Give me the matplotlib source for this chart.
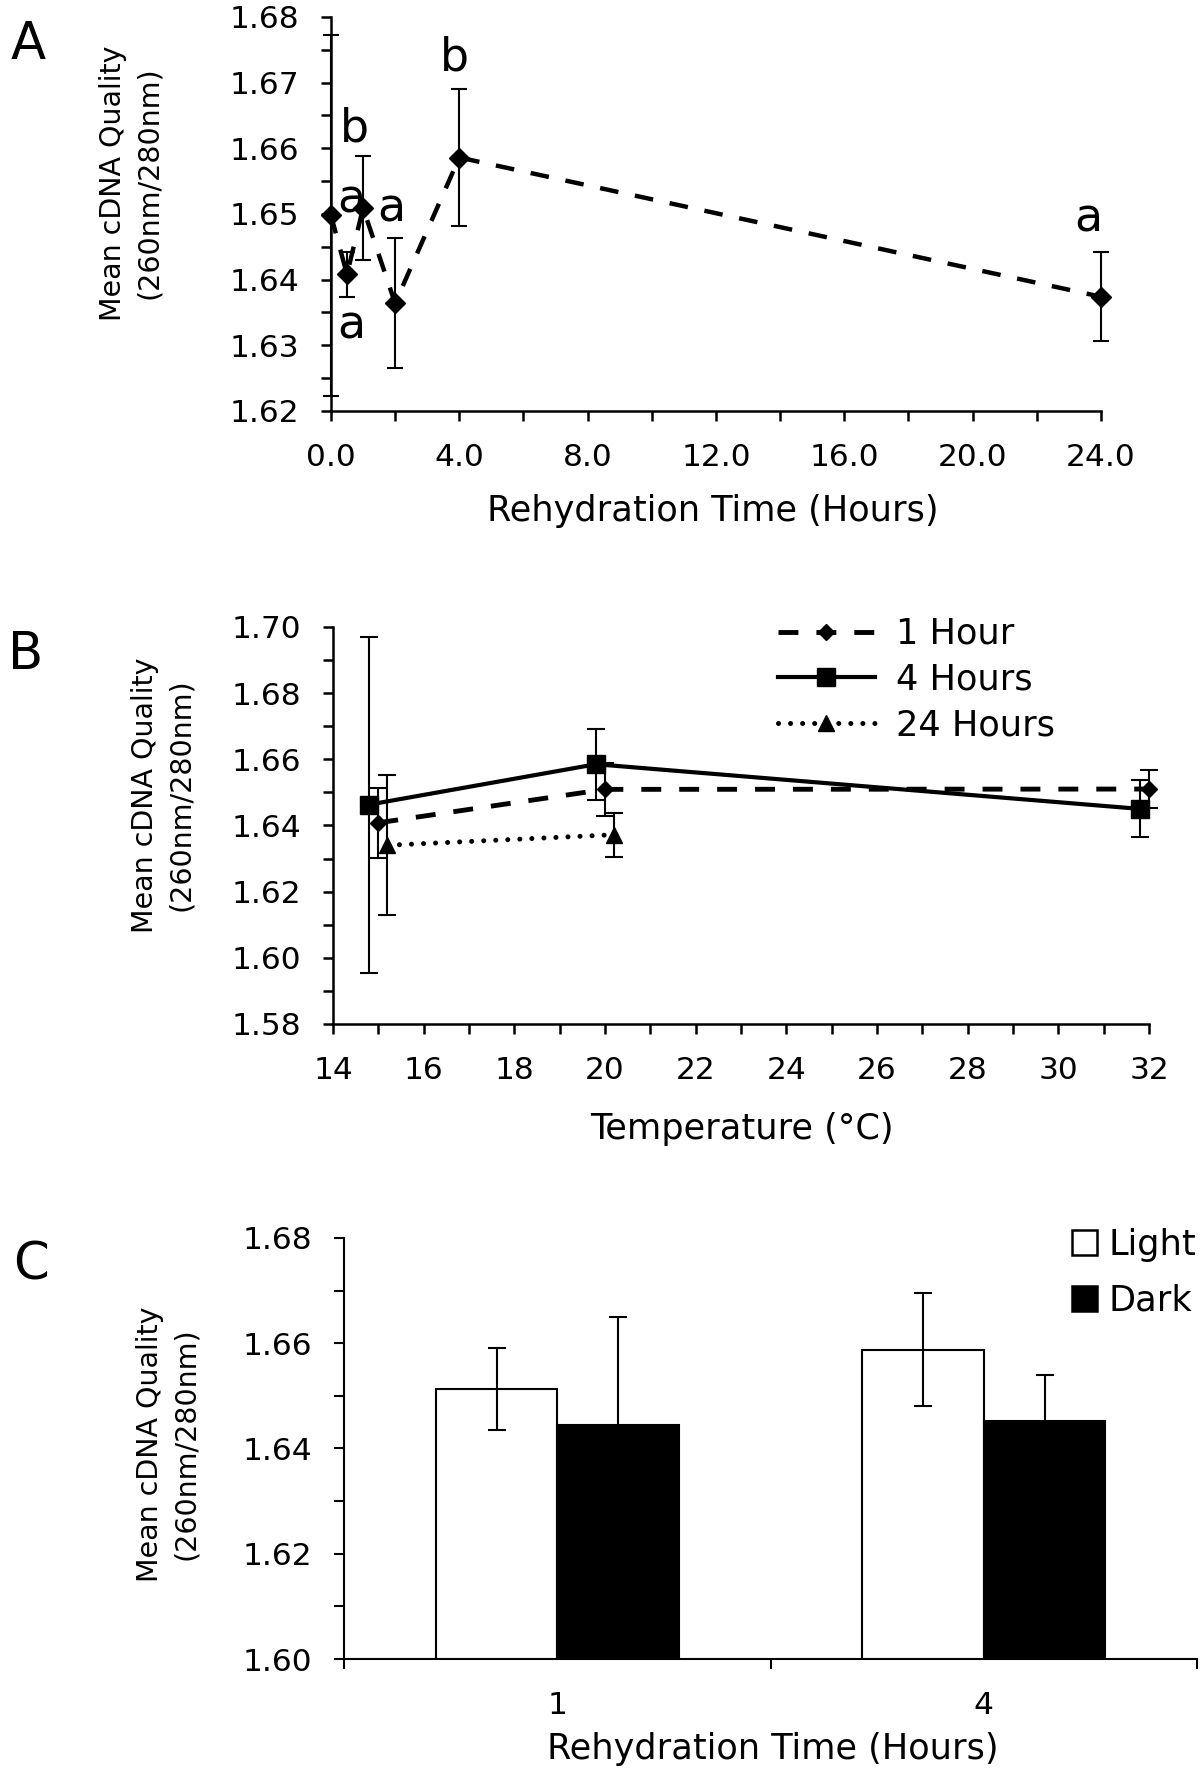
import matplotlib
matplotlib.use("Agg")
import matplotlib.pyplot as plt
from matplotlib.lines import Line2D
from matplotlib.patches import Patch
from matplotlib.ticker import MultipleLocator, FormatStrFormatter
import numpy as np

# ---- panel A : cDNA quality vs rehydration time ----
hours = [0, 0.5, 1, 2, 4, 24]
quality_a = [1.6498, 1.6408, 1.6509, 1.6364, 1.6586, 1.6374]
err_a = [0.0275, 0.0034, 0.0079, 0.0099, 0.0105, 0.0068]
letters_a = ["a", "a", "b", "a", "b", "a"]

# ---- panel B : quality vs temperature, per rehydration time ----
temp_1h = [15.0, 20.0, 32.0]
q_1h = [1.6408, 1.6509, 1.6510]
err_1h = [0.0106, 0.0079, 0.0058]
temp_4h = [14.8, 19.8, 31.8]
q_4h = [1.6463, 1.6585, 1.6450]
err_4h = [0.0508, 0.0107, 0.0086]
temp_24h = [15.2, 20.2]
q_24h = [1.6340, 1.6372]
err_24h = [0.0212, 0.0067]

# ---- panel C : light vs dark ----
groups = ["1", "4"]
light = [1.6513, 1.6588]
light_err = [0.0078, 0.0107]
dark = [1.6444, 1.6453]
dark_err = [0.0205, 0.0087]

ylabel = "Mean cDNA Quality\n(260nm/280nm)"
TICK = 22.5
LAB = 25.3

fig = plt.figure(figsize=(12, 17.7), dpi=100)


def style(ax, lw=1.8):
    for s in ["top", "right"]:
        ax.spines[s].set_visible(False)
    for s in ["left", "bottom"]:
        ax.spines[s].set_linewidth(lw)
    ax.tick_params(which="both", direction="out", length=7, width=lw,
                   labelsize=TICK, pad=16)


# ======================= A =======================
axA = fig.add_axes([0.2758, 0.7678, 0.6417, 0.2226])
style(axA)
eb = axA.errorbar(hours, quality_a, yerr=err_a, fmt="D", color="k", ms=10.5,
                  ls=(0, (4.2, 3.8)), lw=3.2, elinewidth=1.5, capsize=5.8,
                  capthick=1.5)
for art in eb.lines[1] + eb.lines[2] + (eb.lines[0],):
    art.set_clip_on(False)
axA.set_xlim(0, 24)
axA.set_ylim(1.62, 1.68)
axA.xaxis.set_major_locator(MultipleLocator(4))
axA.xaxis.set_minor_locator(MultipleLocator(2))
axA.xaxis.set_major_formatter(FormatStrFormatter("%.1f"))
axA.yaxis.set_major_locator(MultipleLocator(0.01))
axA.yaxis.set_minor_locator(MultipleLocator(0.005))
axA.yaxis.set_major_formatter(FormatStrFormatter("%.2f"))

# significance letters (placement only)
letter_xy = [(0.63, 1.6502), (0.63, 1.6311), (0.72, 1.6610),
             (1.88, 1.6489), (3.86, 1.6718), (23.6, 1.6474)]
for let, (lx, ly) in zip(letters_a, letter_xy):
    axA.text(lx, ly, let, fontsize=33, ha="center", va="baseline")

fig.text(713 / 1200, 1 - 511 / 1770, "Rehydration Time (Hours)",
         fontsize=LAB, ha="center", va="center")
fig.text(131 / 1200, 1 - 183 / 1770, ylabel, fontsize=20.5, rotation=90,
         ha="center", va="center", multialignment="center", linespacing=1.4)
fig.text(28 / 1200, 1 - 45 / 1770, "A", fontsize=37, ha="center", va="center")

# ======================= B =======================
axB = fig.add_axes([0.2775, 0.4215, 0.68, 0.2243])
style(axB)
series_b = [
    (temp_1h, q_1h, err_1h, "D", 8.5, (0, (4.1, 3.7)), 3.5, "butt"),
    (temp_4h, q_4h, err_4h, "s", 13, "-", 3.0, "butt"),
    (temp_24h, q_24h, err_24h, "^", 12, (0, (0.01, 2.4)), 3.6, "round"),
]
handles = []
for tx, qv, ev, mk, ms, ls, lw, cap in series_b:
    eb = axB.errorbar(tx, qv, yerr=ev, fmt=mk, color="k", ms=ms, ls=ls, lw=lw,
                      elinewidth=1.5, capsize=6.5, capthick=1.5)
    eb.lines[0].set_dash_capstyle(cap)
    for art in eb.lines[1] + eb.lines[2] + (eb.lines[0],):
        art.set_clip_on(False)
    h = Line2D([], [], color="k", marker=mk, ms=ms, ls=ls, lw=lw)
    h.set_dash_capstyle(cap)
    handles.append(h)
axB.set_xlim(14, 32)
axB.set_ylim(1.58, 1.70)
axB.xaxis.set_major_locator(MultipleLocator(2))
axB.xaxis.set_minor_locator(MultipleLocator(1))
axB.yaxis.set_major_locator(MultipleLocator(0.02))
axB.yaxis.set_minor_locator(MultipleLocator(0.01))
axB.yaxis.set_major_formatter(FormatStrFormatter("%.2f"))
axB.legend(handles, ["1 Hour", "4 Hours", "24 Hours"], fontsize=LAB,
           frameon=False, loc="upper left", borderpad=0, borderaxespad=0,
           handlelength=2.75, handletextpad=0.6, labelspacing=0.33,
           bbox_to_anchor=(778 / 1200, 1 - 617 / 1770),
           bbox_transform=fig.transFigure)

fig.text(742 / 1200, 1 - 1129 / 1770, "Temperature (°C)",
         fontsize=LAB, ha="center", va="center")
fig.text(163 / 1200, 1 - 795 / 1770, ylabel, fontsize=20.5, rotation=90,
         ha="center", va="center", multialignment="center", linespacing=1.4)
fig.text(26 / 1200, 1 - 655 / 1770, "B", fontsize=37, ha="center", va="center")

# ======================= C =======================
axC = fig.add_axes([0.2867, 0.0627, 0.7108, 0.2379])
style(axC, lw=1.5)
x = np.arange(len(groups))
w = 0.285
ekw = dict(elinewidth=1.5, capthick=1.5, ecolor="k")
axC.bar(x - w / 2, light, w, color="white", edgecolor="k", lw=1.5,
        yerr=light_err, capsize=6.5, error_kw=ekw, label="Light")
axC.bar(x + w / 2, dark, w, color="black", edgecolor="k", lw=1.5,
        yerr=dark_err, capsize=6.5, error_kw=ekw, label="Dark")
axC.set_xlim(-0.5, 1.5)
axC.set_ylim(1.60, 1.68)
axC.set_xticks(x, labels=groups)
axC.set_xticks([-0.5, 0.5, 1.5], minor=True)
axC.tick_params(axis="x", which="major", length=0, pad=23)
axC.yaxis.set_major_locator(MultipleLocator(0.02))
axC.yaxis.set_minor_locator(MultipleLocator(0.01))
axC.yaxis.set_major_formatter(FormatStrFormatter("%.2f"))
leg_handles = [Patch(facecolor="white", edgecolor="k", lw=1.8),
               Patch(facecolor="black", edgecolor="k", lw=1.8)]
axC.legend(leg_handles, ["Light", "Dark"], fontsize=LAB, frameon=False,
           loc="upper left", borderpad=0, borderaxespad=0,
           handlelength=0.7, handleheight=0.7, handletextpad=0.35,
           labelspacing=0.62, bbox_to_anchor=(1072 / 1200, 1 - 1228 / 1770),
           bbox_transform=fig.transFigure)

fig.text(773 / 1200, 1 - 1749 / 1770, "Rehydration Time (Hours)",
         fontsize=LAB, ha="center", va="center")
fig.text(168 / 1200, 1 - 1444 / 1770, ylabel, fontsize=20.5, rotation=90,
         ha="center", va="center", multialignment="center", linespacing=1.4)
fig.text(31 / 1200, 1 - 1265 / 1770, "C", fontsize=37, ha="center", va="center")

fig.savefig("out.png", dpi=100)
